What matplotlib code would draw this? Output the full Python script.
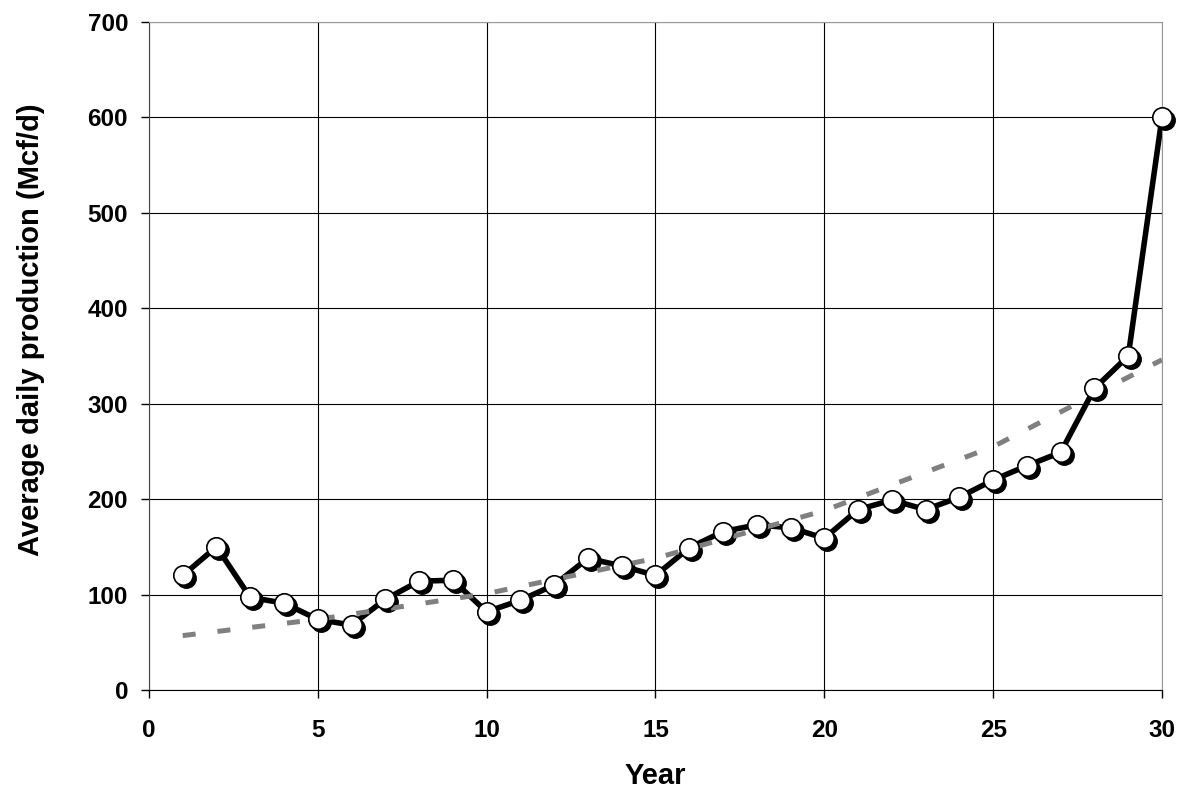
import matplotlib
matplotlib.use("Agg")
import matplotlib.pyplot as plt
import matplotlib.transforms as mtransforms
import numpy as np

years = np.arange(1, 31)
production = [120, 150, 97, 91, 74, 68, 95, 114, 115, 82,
              94, 110, 138, 130, 120, 149, 166, 173, 170, 159,
              189, 199, 189, 202, 220, 235, 249, 316, 350, 600]

# exponential trend line as drawn in the original chart
trend_years = [1, 5, 10, 15, 20, 25, 30]
trend_values = [57, 74, 101, 138, 188, 255, 346]

plt.rcParams["font.family"] = ["Liberation Sans", "DejaVu Sans"]
plt.rcParams["font.weight"] = "bold"

fig = plt.figure(figsize=(11.85, 7.93), dpi=100)
ax = fig.add_axes([0.1257, 0.1299, 0.8549, 0.8424])

ax.plot(years, production, color="black", lw=4, zorder=2, clip_on=False)
shadow = mtransforms.offset_copy(ax.transData, fig=fig, x=3, y=-3, units="dots")
ax.plot(years, production, ls="none", marker="o", ms=14, mfc="black", mec="black",
        transform=shadow, zorder=3, clip_on=False)
ax.plot(trend_years, trend_values, color="#808080", lw=3.6, ls=(0, (2.6, 4.4)),
        zorder=4)
ax.plot(years, production, ls="none", marker="o", ms=14, mfc="white", mec="black",
        mew=1.2, zorder=5, clip_on=False)

ax.set_xlim(0, 30)
ax.set_ylim(0, 700)
ax.set_xticks(range(0, 31, 5))
ax.set_yticks(range(0, 701, 100))
ax.grid(True, color="black", lw=0.8)
ax.set_axisbelow(True)
for side in ["top", "right"]:
    ax.spines[side].set_color("#999999")
ax.spines["left"].set_color("#444444")
ax.spines["bottom"].set_color("black")
ax.tick_params(direction="out", length=6, width=1, labelsize=17.5)
ax.tick_params(axis="y", pad=9)
ax.tick_params(axis="x", pad=15)
for lab in ax.get_xticklabels() + ax.get_yticklabels():
    lab.set_fontweight("bold")

ax.set_xlabel("Year", fontsize=21, fontweight="bold", labelpad=14)
ax.set_ylabel("Average daily production (Mcf/d)", fontsize=21, fontweight="bold",
              labelpad=31)
ax.yaxis.label.set_y(0.54)

fig.savefig("out.png", dpi=100)
